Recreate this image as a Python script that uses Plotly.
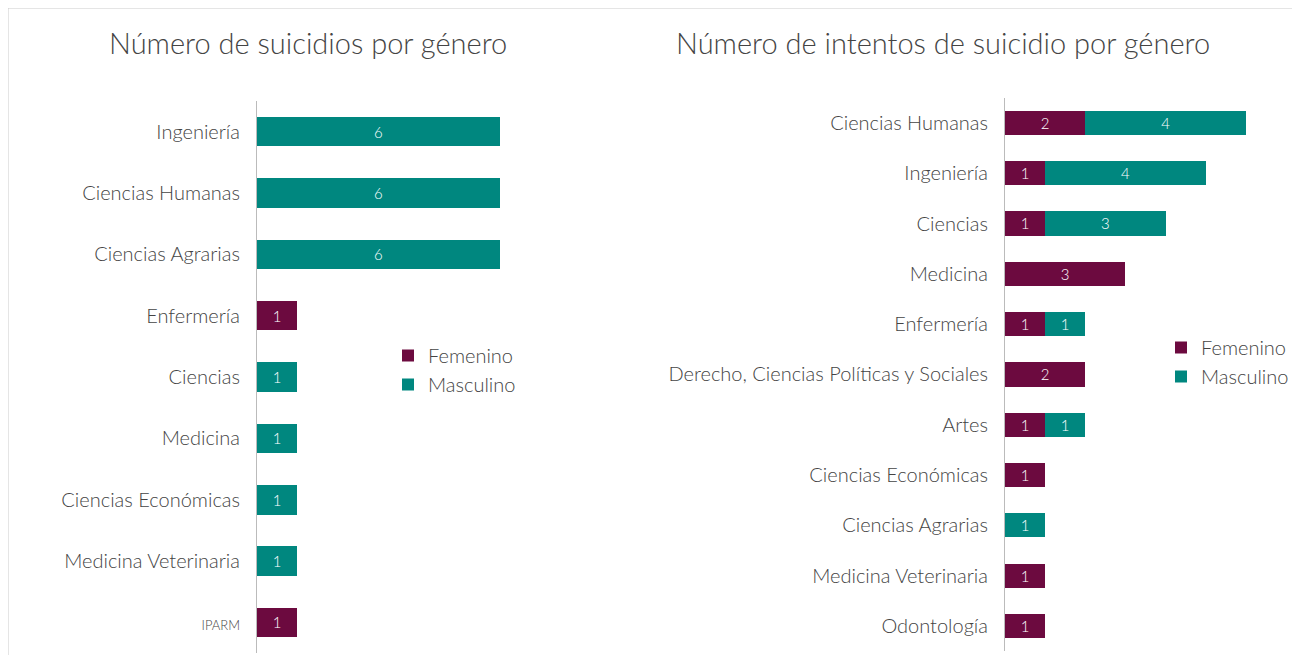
import plotly.graph_objects as go

FEM = "#6c0a3f"
MASC = "#00877f"

# left chart: suicides
cats_s = ["Ingeniería", "Ciencias Humanas", "Ciencias Agrarias", "Enfermería", "Ciencias",
          "Medicina", "Ciencias Económicas", "Medicina Veterinaria", "IPARM"]
fem_s = [0, 0, 0, 1, 0, 0, 0, 0, 1]
masc_s = [6, 6, 6, 0, 1, 1, 1, 1, 0]

# right chart: attempts
cats_i = ["Ciencias Humanas", "Ingeniería", "Ciencias", "Medicina", "Enfermería",
          "Derecho, Ciencias Políticas y Sociales", "Artes", "Ciencias Económicas",
          "Ciencias Agrarias", "Medicina Veterinaria", "Odontología"]
fem_i = [2, 1, 1, 3, 1, 2, 1, 1, 0, 1, 1]
masc_i = [4, 4, 3, 0, 1, 0, 1, 0, 1, 0, 0]


def lbl(vals):
    return [str(v) if v else "" for v in vals]


def none0(vals):
    return [v if v else None for v in vals]


fig = go.Figure()
txtfont = dict(family="Lato", size=24, color="white", weight=300)

for cats, fem, masc, xa, ya, lg in [(cats_s, fem_s, masc_s, "x", "y", "legend"),
                                    (cats_i, fem_i, masc_i, "x2", "y2", "legend2")]:
    for name, vals, col in [("Femenino", fem, FEM), ("Masculino", masc, MASC)]:
        fig.add_bar(y=cats, x=none0(vals), orientation="h", name=name, marker_color=col,
                    marker_line_width=0, text=lbl(vals), textposition="inside",
                    insidetextanchor="middle", textangle=0, textfont=txtfont,
                    xaxis=xa, yaxis=ya, legend=lg)

tick_s = [c if c != "IPARM" else "<span style='font-size:13px'>IPARM</span>" for c in cats_s]

axis_y = dict(autorange="reversed", showline=True, linecolor="#bbbbbb", linewidth=1,
              ticks="", ticklabelstandoff=12, tickfont=dict(size=20, color="#444", weight=300),
              showgrid=False)
leg = dict(xanchor="left", yanchor="top", traceorder="normal",
           font=dict(size=20, color="#444", weight=300), bgcolor="rgba(0,0,0,0)")
fig.update_layout(
    width=1300, height=655, margin=dict(l=0, r=0, t=0, b=0, autoexpand=False),
    paper_bgcolor="white", plot_bgcolor="white",
    font=dict(family="Lato", color="#444", weight=300),
    barmode="stack", bargap=0.52, uniformtext=dict(mode="show", minsize=10),
    xaxis=dict(domain=[249 / 1300, 540 / 1300], range=[0, 7.2], visible=False),
    yaxis=dict(domain=[0.015, 0.858], tickvals=cats_s, ticktext=tick_s, **axis_y),
    xaxis2=dict(domain=[997 / 1300, 1290 / 1300], range=[0, 7.3], visible=False),
    yaxis2=dict(domain=[0.018, 0.863], anchor="x2", **axis_y),
    legend=dict(x=380 / 1300, y=1 - 328 / 655, **leg),
    legend2=dict(x=1153 / 1300, y=1 - 320 / 655, **leg),
    showlegend=True,
    annotations=[
        dict(text="Número de suicidios por género", x=300 / 1300, y=1 - 35 / 655,
             xref="paper", yref="paper", xanchor="center", yanchor="middle",
             showarrow=False, font=dict(size=29, color="#444", weight=300)),
        dict(text="Número de intentos de suicidio por género", x=935 / 1300, y=1 - 35 / 655,
             xref="paper", yref="paper", xanchor="center", yanchor="middle",
             showarrow=False, font=dict(size=29, color="#444", weight=300)),
    ],
    shapes=[dict(type="rect", xref="paper", yref="paper", x0=0, y0=0, x1=1, y1=1,
                 line=dict(color="#cccccc", width=1))],
)

fig.write_html("out.html")
